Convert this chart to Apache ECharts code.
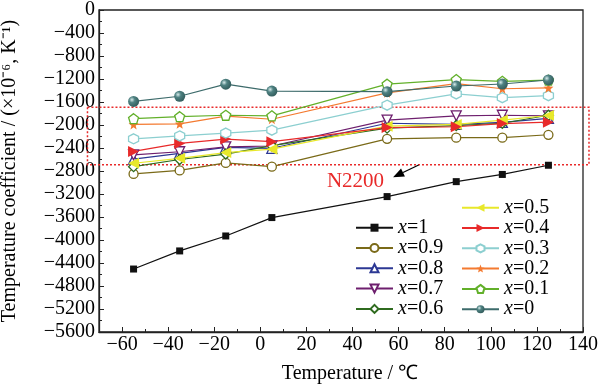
<!DOCTYPE html>
<html><head><meta charset="utf-8">
<script src="https://cdn.jsdelivr.net/npm/echarts@6/dist/echarts.min.js"></script>
<style>html,body{margin:0;padding:0;background:#fff}#c{width:600px;height:384px}</style>
</head><body><div id="c"></div>
<script>
// ---- data ----
const temps = [-55, -35, -15, 5, 55, 85, 105, 125];
const x1   = [-4505, -4190, -3930, -3610, -3245, -2985, -2860, -2700];
const x09  = [-2850, -2790, -2660, -2725, -2240, -2220, -2220, -2170];
const x08  = [-2595, -2495, -2390, -2405, -1970, -1990, -1955, -1885];
const x07  = [-2520, -2465, -2380, -2365, -1915, -1840, -1830, -1840];
const x06  = [-2725, -2600, -2505, -2360, -2055, -2010, -1970, -1830];
const x05  = [-2665, -2580, -2480, -2420, -2020, -1990, -1915, -1835];
const x04  = [-2460, -2320, -2245, -2290, -2045, -2030, -1975, -1950];
const x03  = [-2240, -2190, -2140, -2090, -1655, -1460, -1525, -1490];
const x02  = [-1990, -1980, -1845, -1900, -1440, -1280, -1370, -1355];
const x01  = [-1890, -1855, -1830, -1840, -1290, -1210, -1240, -1220];
const x00  = [-1590, -1500, -1290, -1410, -1420, -1322, -1287, -1217];
const xMajorTicks = [-60, -40, -20, 0, 20, 40, 60, 80, 100, 120, 140];
const xMinorTicks = [-70, -50, -30, -10, 10, 30, 50, 70, 90, 110, 130];
const boxRange = [-1690, -2690];         // dotted box (y values)
const boxX = [-75, 142.6];
const annotText = 'N2200';
const annotPos = [41.3, -2991];
const arrowFrom = [68.7, -2695];
const arrowTo = [57.6, -2909];

const FONT = "Liberation Serif";
const hexagon = 'path://M0,-1 L0.866,-0.5 L0.866,0.5 L0,1 L-0.866,0.5 L-0.866,-0.5 Z';
const pentagon = 'path://M0,-1 L0.951,-0.309 L0.588,0.809 L-0.588,0.809 L-0.951,-0.309 Z';
function starPath(){
  let p = [];
  for (let k = 0; k < 10; k++) {
    const r = k % 2 ? 0.42 : 1;
    const a = -Math.PI/2 + k*Math.PI/5;
    p.push((r*Math.cos(a)).toFixed(3) + ',' + (r*Math.sin(a)).toFixed(3));
  }
  return 'path://M' + p.join(' L') + ' Z';
}
const star = starPath();

function pairs(arr){ return temps.map((t,i)=>[t, arr[i]]); }
function mk(name, data, color, symbol, opts){
  opts = opts || {};
  const hollow = opts.hollow;
  return {
    name, type:'line', data: pairs(data), color,
    symbol, symbolSize: opts.size || 9, symbolRotate: opts.rotate || 0,
    lineStyle:{color, width:1.2},
    itemStyle: hollow ? {color:'#fff', borderColor:color, borderWidth:1.3} : {color: opts.fill || color, borderColor: opts.border || color, borderWidth: opts.bw || 0},
    emphasis:{disabled:true}, z: opts.z || 2
  };
}
const sphere = {type:'radial', x:0.35, y:0.35, r:0.75, colorStops:[{offset:0,color:'#d8ecec'},{offset:0.35,color:'#4f8282'},{offset:1,color:'#2d5656'}]};
const series = [
  mk('x=1', x1, '#111111', 'rect', {size:7}),
  mk('x=0.9', x09, '#7a6a18', 'circle', {hollow:true, size:9}),
  mk('x=0.8', x08, '#2c3894', 'triangle', {hollow:true, size:10}),
  mk('x=0.7', x07, '#6e1f6e', 'triangle', {hollow:true, size:10, rotate:180}),
  mk('x=0.6', x06, '#2f6b1f', 'diamond', {hollow:true, size:10}),
  mk('x=0.5', x05, '#e8e82a', 'triangle', {size:11, rotate:90}),
  mk('x=0.4', x04, '#e82a2a', 'triangle', {size:11, rotate:-90}),
  mk('x=0.3', x03, '#8ccfd0', hexagon, {hollow:true, size:10}),
  mk('x=0.2', x02, '#f47a30', star, {size:10}),
  mk('x=0.1', x01, '#62b02a', pentagon, {hollow:true, size:10}),
  mk('x=0', x00, '#3d6b6b', 'circle', {size:11, fill: sphere}),
];

const legendText = {fontFamily:FONT, fontSize:20, color:'#000', lineHeight:20,
  rich:{i:{fontFamily:FONT, fontSize:20, fontStyle:'italic', lineHeight:20}}};
const fmt = n => '{i|x}=' + n.slice(2);
function leg(data, left, top){
  return {data, left, top, orient:'vertical', itemWidth:37, itemHeight:10, itemGap:0.3,
    selectedMode:false, formatter:fmt, textStyle:legendText};
}
const minus = v => v < 0 ? '\u2212' + (-v) : String(v);

const chart = echarts.init(document.getElementById('c'), null, {renderer:'canvas'});
chart.setOption({
  animation:false,
  backgroundColor:'#fff',
  grid:{left:99, right:17, top:10, bottom:52, show:true, borderColor:'#222', borderWidth:1.3, backgroundColor:'transparent', outerBoundsMode:'none', containLabel:false},
  legend:[
    leg(['x=1','x=0.9','x=0.8','x=0.7','x=0.6'], 350, 212.7),
    leg(['x=0.5','x=0.4','x=0.3','x=0.2','x=0.1','x=0'], 456, 192.7)
  ],
  xAxis:[{
    type:'value', min:-70, max:140, position:'bottom',
    name:'Temperature / \u2103', nameLocation:'middle', nameGap:32,
    nameTextStyle:{fontFamily:FONT, fontSize:20, color:'#000', padding:[0,0,0,18]},
    axisLine:{onZero:false, lineStyle:{color:'#222', width:1.3}},
    axisTick:{inside:true, length:5, customValues:xMajorTicks, lineStyle:{color:'#222'}},
    axisLabel:{customValues:xMajorTicks, formatter:minus, fontFamily:FONT, fontSize:20, color:'#000', margin:3},
    splitLine:{show:false}
  },{
    type:'value', min:-70, max:140, position:'bottom',
    axisLine:{show:false, onZero:false},
    axisTick:{inside:true, length:3, customValues:xMinorTicks, lineStyle:{color:'#222'}},
    axisLabel:{show:false}, splitLine:{show:false}
  }],
  yAxis:{
    type:'value', min:-5600, max:0, interval:400,
    name:'Temperature coefficient / (\u00d710\u207b\u2076, K\u207b\u00b9)', nameLocation:'middle', nameRotate:90, nameGap:79,
    nameTextStyle:{fontFamily:FONT, fontSize:20, color:'#000'},
    axisLine:{onZero:false, lineStyle:{color:'#222', width:1.3}},
    axisTick:{inside:true, length:5, lineStyle:{color:'#222'}},
    minorTick:{show:true, splitNumber:2, length:3, lineStyle:{color:'#222'}},
    axisLabel:{formatter:minus, fontFamily:FONT, fontSize:20, color:'#000', margin:4},
    splitLine:{show:false}
  },
  series
});

function px(p){ return chart.convertToPixel({xAxisIndex:0, yAxisIndex:0}, p); }
const b1 = px([boxX[0], boxRange[0]]), b2 = px([boxX[1], boxRange[1]]);
const t = px(annotPos), a0 = px(arrowFrom), a1 = px(arrowTo);
const ang = Math.atan2(a1[1]-a0[1], a1[0]-a0[0]);
const hl = 11, hw = 4.5;
const base = [a1[0]-hl*Math.cos(ang), a1[1]-hl*Math.sin(ang)];
const head = [a1, [base[0]+hw*Math.sin(ang), base[1]-hw*Math.cos(ang)], [base[0]-hw*Math.sin(ang), base[1]+hw*Math.cos(ang)]];
chart.setOption({graphic:[
  {type:'rect', shape:{x:b1[0], y:b1[1], width:b2[0]-b1[0], height:b2[1]-b1[1]}, style:{fill:'none', stroke:'#e82a2a', lineWidth:1.5, lineDash:[2,2]}, z:1},
  {type:'line', shape:{x1:a0[0], y1:a0[1], x2:base[0], y2:base[1]}, style:{stroke:'#000', lineWidth:1.3}, z:10},
  {type:'polygon', shape:{points:head}, style:{fill:'#000'}, z:10},
  {type:'text', x:t[0], y:t[1], style:{text:annotText, fill:'#e82a2a', font:'21px "Liberation Serif", serif', align:'center', verticalAlign:'middle'}, z:10}
]});
</script>
</body></html>
